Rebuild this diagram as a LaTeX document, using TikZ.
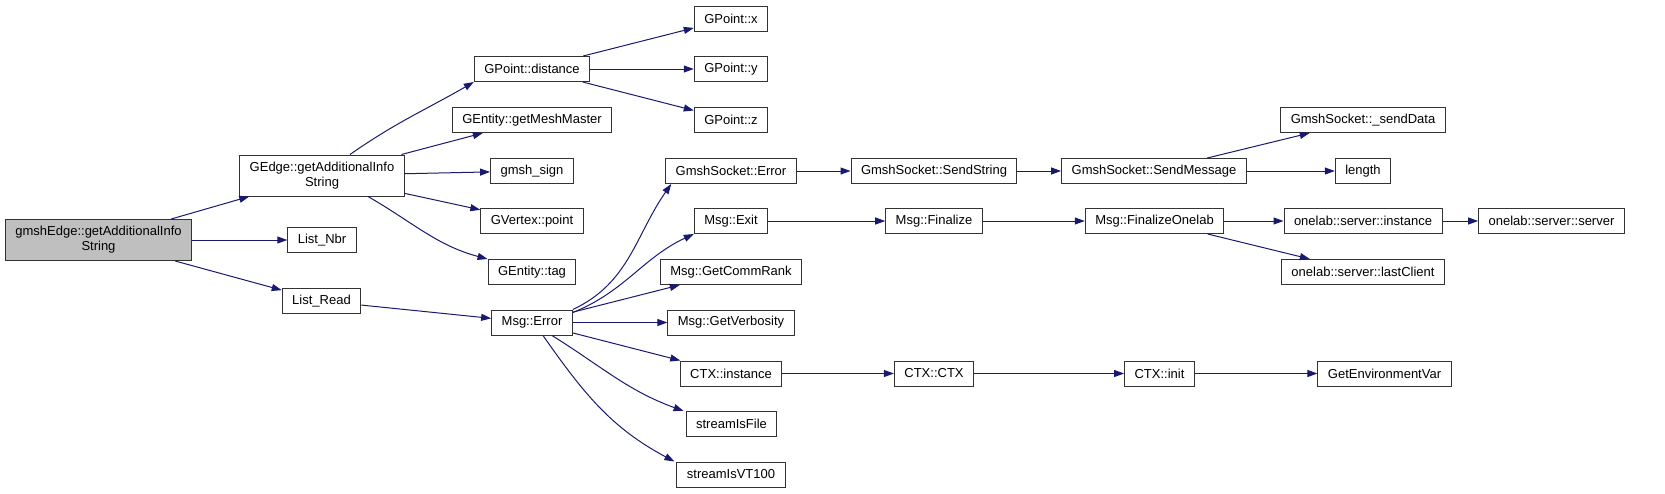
\documentclass[tikz,border=0pt]{standalone}
\usepackage{fontspec}
\setmainfont{Liberation Sans}
\usetikzlibrary{arrows.meta, positioning, calc}

\definecolor{edgeblue}{RGB}{25,25,112}
\definecolor{rootgray}{RGB}{191,191,191}

\begin{document}
\begin{tikzpicture}[x=1pt, y=1pt,
  fn/.style={draw=black!80, line width=1pt, fill=white, inner xsep=10pt, inner ysep=2pt,
    minimum height=25pt, font=\fontsize{13}{15}\selectfont, align=center},
  twoline/.style={fn, minimum height=41pt},
  root/.style={twoline, fill=rootgray},
  call/.style={draw=edgeblue, line width=1pt, -{Triangle[length=10pt, width=7pt]}}]
\useasboundingbox (0,0) rectangle (1665,-493);

% caller and first level
\node[root] (root) at (98.5,-240) {gmshEdge::getAdditionalInfo\\String};
\node[twoline] (gedge) at (322,-175.5) {GEdge::getAdditionalInfo\\String};
\node[fn] (nbr) at (322,-240) {List\_Nbr};
\node[fn] (read) at (321.5,-301) {List\_Read};

% second level
\node[fn] (dist) at (532,-69) {GPoint::distance};
\node[fn] (master) at (532,-120) {GEntity::getMeshMaster};
\node[fn] (sign) at (532,-171) {gmsh\_sign};
\node[fn] (vpoint) at (532,-221) {GVertex::point};
\node[fn] (tag) at (532,-272) {GEntity::tag};
\node[fn] (err) at (532,-322.5) {Msg::Error};

% third level
\node[fn] (px) at (731,-18.5) {GPoint::x};
\node[fn] (py) at (731,-69) {GPoint::y};
\node[fn] (pz) at (731,-120) {GPoint::z};
\node[fn] (serr) at (731,-171) {GmshSocket::Error};
\node[fn] (exit) at (731,-221) {Msg::Exit};
\node[fn] (rank) at (731,-272) {Msg::GetCommRank};
\node[fn] (verb) at (731,-322.5) {Msg::GetVerbosity};
\node[fn] (ctxi) at (731,-373.5) {CTX::instance};
\node[fn] (sfile) at (731.5,-424) {streamIsFile};
\node[fn] (svt) at (731,-474.5) {streamIsVT100};

% further levels
\node[fn] (sstr) at (934,-171) {GmshSocket::SendString};
\node[fn] (fin) at (934,-221) {Msg::Finalize};
\node[fn] (ctx) at (934,-373.5) {CTX::CTX};
\node[fn] (smsg) at (1154,-171) {GmshSocket::SendMessage};
\node[fn] (fonelab) at (1154.5,-221) {Msg::FinalizeOnelab};
\node[fn] (cinit) at (1159.5,-373.5) {CTX::init};
\node[fn] (sdata) at (1363,-120) {GmshSocket::\_sendData};
\node[fn] (len) at (1363,-171) {length};
\node[fn] (oinst) at (1363,-221) {onelab::server::instance};
\node[fn] (olast) at (1363,-272) {onelab::server::lastClient};
\node[fn] (oserv) at (1551.5,-221) {onelab::server::server};
\node[fn] (genv) at (1384.5,-373.5) {GetEnvironmentVar};

% calls
\draw[call] (root) -- (gedge);
\draw[call] (root) -- (nbr);
\draw[call] (root) -- (read);
\draw[call] ($(gedge.north)+(28,0)$) to[out=35, in=-150] (dist.south west);
\draw[call] (gedge) -- (master);
\draw[call] (gedge) -- (sign);
\draw[call] (gedge) -- (vpoint);
\draw[call] ($(gedge.south)+(46,0)$) to[out=-30, in=165] (tag.north west);
\draw[call] (read) -- (err);
\draw[call] (dist) -- (px);
\draw[call] (dist) -- (py);
\draw[call] (dist) -- (pz);
\draw[call] (err.north east) to[out=25, in=-125] ($(serr.south west)+(6,0)$);
\draw[call] ($(err.north east)+(0,-3)$) to[out=22, in=-155] (exit.south west);
\draw[call] (err) -- (rank);
\draw[call] (err) -- (verb);
\draw[call] (err) -- (ctxi);
\draw[call] ($(err.south)+(20,0)$) to[out=-32, in=160] ($(sfile.north west)+(-2,0)$);
\draw[call] ($(err.south)+(11,0)$) to[out=-55, in=152] ($(svt.north west)+(-2,0)$);
\draw[call] (serr) -- (sstr);
\draw[call] (sstr) -- (smsg);
\draw[call] (smsg) -- (sdata);
\draw[call] (smsg) -- (len);
\draw[call] (exit) -- (fin);
\draw[call] (fin) -- (fonelab);
\draw[call] (fonelab) -- (oinst);
\draw[call] (fonelab) -- (olast);
\draw[call] (oinst) -- (oserv);
\draw[call] (ctxi) -- (ctx);
\draw[call] (ctx) -- (cinit);
\draw[call] (cinit) -- (genv);
\end{tikzpicture}
\end{document}
